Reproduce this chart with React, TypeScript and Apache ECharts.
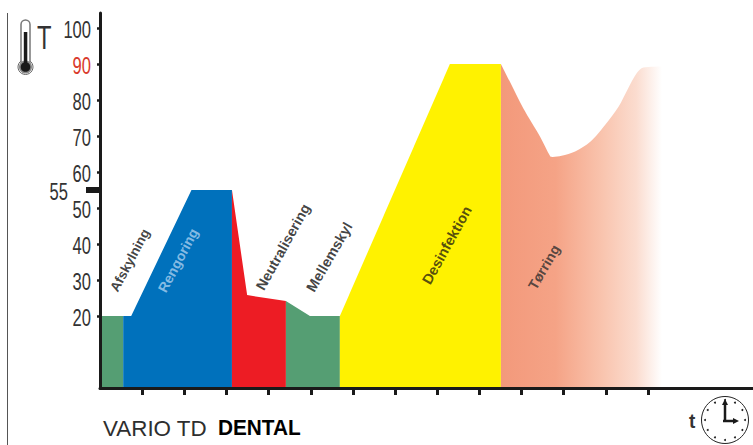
import React, { useEffect, useRef } from "react";
import * as echarts from "echarts";

const yTicks = [20, 30, 40, 50, 60, 70, 80, 90, 100];
const xTicks = [1, 2, 3, 4, 5, 6, 7, 8, 9, 10, 11, 12, 13];
const setpoint = [55];

const afskylning = [[0, 20], [0.55, 20]];
const rengoring = [[0.55, 20], [0.74, 20], [2.17, 55], [3.13, 55]];
const neutralisering = [[3.13, 55], [3.49, 25.8], [4.41, 24.2]];
const mellemskyl = [[4.41, 24.2], [4.98, 20], [5.69, 20]];
const desinfektion = [[5.69, 20], [8.3, 90], [9.51, 90]];
const torring = [
  [9.51, 90], [9.73, 84.9], [10.04, 77.7], [10.44, 69.8], [10.68, 64.4], [10.74, 64.2], [10.95, 64.5], [11.27, 65.7],
  [11.63, 68.4], [11.98, 73.05], [12.3, 78.1], [12.53, 83.25], [12.73, 87.4], [12.89, 89], [13.33, 89.3],
];

const phaseLabels = [
  { name: "Afskylning", x: 0.71, y: 35.5, rotate: 62, size: 13.5, color: "#111111" },
  { name: "Rengoring", x: 1.85, y: 35.5, rotate: 62, size: 14, color: "#a9cfee" },
  { name: "Neutralisering", x: 4.34, y: 39.2, rotate: 61, size: 14.3, color: "#111111" },
  { name: "Mellemskyl", x: 5.44, y: 36.4, rotate: 60, size: 14.5, color: "#111111" },
  { name: "Desinfektion", x: 8.23, y: 39.7, rotate: 61, size: 14.5, color: "#2b2510" },
  { name: "Tørring", x: 10.53, y: 33.6, rotate: 60, size: 14, color: "#2e2e2e" },
];

const areas = [
  { name: "Afskylning", data: afskylning, color: "#559e73" },
  { name: "Rengoring", data: rengoring, color: "#0071bc" },
  { name: "Neutralisering", data: neutralisering, color: "#ed1c24" },
  { name: "Mellemskyl", data: mellemskyl, color: "#559e73" },
  { name: "Desinfektion", data: desinfektion, color: "#fff200" },
];

const SANS = '"Liberation Sans", Arial, sans-serif';

const clockCx = 725;
const clockCy = 420;
const clockDots = Array.from({ length: 12 }, (_, i) => ({
  type: "circle",
  shape: {
    cx: clockCx + 20 * Math.cos((i * Math.PI) / 6),
    cy: clockCy + 20 * Math.sin((i * Math.PI) / 6),
    r: 1,
  },
  style: { fill: "#222" },
}));

// Narrow tick labels: no condensed face is installed, so the text is squeezed horizontally.
const yLabelSeries = (values: number[], gap: number) => ({
  type: "custom",
  silent: true,
  clip: false,
  z: 6,
  data: values.map((v) => [0, v]),
  renderItem: (_p: any, api: any) => {
    const v = api.value(1);
    const p = api.coord([0, v]);
    return {
      type: "text",
      x: p[0] - gap,
      y: p[1] + 1,
      scaleX: 0.69,
      style: {
        text: String(v),
        align: "right",
        verticalAlign: "middle",
        fontFamily: SANS,
        fontSize: 24,
        fill: v === 90 ? "#d9392b" : "#333333",
      },
    };
  },
});

export default function App() {
  const ref = useRef<HTMLDivElement>(null);
  useEffect(() => {
    const chart = echarts.init(ref.current!, undefined, { renderer: "svg" });
    const axisCommon = { min: 0, max: 104.17, type: "value", splitLine: { show: false } };
    chart.setOption({
      animation: false,
      backgroundColor: "#ffffff",
      grid: { left: 100, right: 0, top: 13, bottom: 57, containLabel: false },
      xAxis: {
        type: "value",
        min: 0,
        max: 15.49,
        z: 5,
        splitLine: { show: false },
        axisLine: { onZero: false, lineStyle: { color: "#1a1a1a", width: 3 } },
        axisTick: { show: true, customValues: xTicks, length: 7, lineStyle: { color: "#1a1a1a", width: 3 } },
        axisLabel: { show: false },
      },
      yAxis: [
        {
          ...axisCommon,
          z: 5,
          axisLine: { show: true, onZero: false, lineStyle: { color: "#1a1a1a", width: 3 } },
          axisTick: { show: true, customValues: yTicks, length: 3, lineStyle: { color: "#1a1a1a", width: 2.5 } },
          axisLabel: { show: false },
        },
        {
          ...axisCommon,
          position: "left",
          z: 5,
          axisLine: { show: false, onZero: false },
          axisTick: { show: true, customValues: setpoint, length: 14, lineStyle: { color: "#1a1a1a", width: 6 } },
          axisLabel: { show: false },
        },
      ],
      series: [
        ...areas.map((a) => ({
          type: "line",
          name: a.name,
          data: a.data,
          symbol: "none",
          silent: true,
          lineStyle: { width: 0 },
          areaStyle: { color: a.color, opacity: 1 },
        })),
        {
          type: "line",
          name: "Tørring",
          data: torring,
          symbol: "none",
          smooth: 0.3,
          silent: true,
          lineStyle: { width: 0 },
          areaStyle: {
            opacity: 1,
            color: {
              type: "linear",
              x: 0,
              y: 0,
              x2: 1,
              y2: 0,
              colorStops: [
                { offset: 0, color: "#f3997b" },
                { offset: 0.34, color: "#f5a386" },
                { offset: 0.63, color: "#f9c4ae" },
                { offset: 0.84, color: "#fbdccf" },
                { offset: 1, color: "#ffffff" },
              ],
            },
          },
        },
        yLabelSeries(yTicks, 9),
        yLabelSeries(setpoint, 32),
        ...phaseLabels.map((l) => ({
          type: "scatter",
          name: l.name + " label",
          symbolSize: 0,
          silent: true,
          z: 6,
          data: [[l.x, l.y]],
          label: {
            show: true,
            position: "inside",
            formatter: l.name,
            rotate: l.rotate,
            color: l.color,
            fontFamily: SANS,
            fontWeight: "bold",
            fontSize: l.size,
          },
        })),
      ],
      graphic: [
        {
          type: "line",
          shape: { x1: 7.5, y1: 13, x2: 7.5, y2: 445 },
          style: { stroke: "#555", lineWidth: 1 },
        },
        {
          type: "group",
          children: [
            { type: "circle", shape: { cx: 25.5, cy: 67, r: 7.5 }, style: { fill: "#fff", stroke: "#666", lineWidth: 1 } },
            { type: "rect", shape: { x: 21, y: 20, width: 9, height: 46, r: 4.5 }, style: { fill: "#fff", stroke: "#777", lineWidth: 1.5 } },
            { type: "circle", shape: { cx: 25.5, cy: 67, r: 6.5 }, style: { fill: "#888" } },
            { type: "rect", shape: { x: 23.8, y: 32, width: 3.5, height: 33 }, style: { fill: "#1a1a1a" } },
            { type: "circle", shape: { cx: 25.5, cy: 67, r: 4.8 }, style: { fill: "#1a1a1a" } },
          ],
        },
        {
          type: "text",
          x: 37,
          y: 21,
          scaleX: 0.72,
          style: { text: "T", fontFamily: SANS, fontSize: 33, fill: "#333" },
        },
        {
          type: "text",
          x: 103,
          y: 428,
          style: { text: "VARIO TD", verticalAlign: "middle", fontFamily: SANS, fontSize: 22.4, fill: "#2e2e2e" },
        },
        {
          type: "text",
          x: 218,
          y: 428,
          scaleX: 0.945,
          style: { text: "DENTAL", verticalAlign: "middle", fontFamily: SANS, fontSize: 22, fontWeight: "bold", fill: "#000" },
        },
        {
          type: "text",
          x: 689,
          y: 410,
          scaleX: 0.9,
          style: { text: "t", fontFamily: SANS, fontSize: 21, fontWeight: "bold", fill: "#333" },
        },
        {
          type: "group",
          children: [
            { type: "circle", shape: { cx: clockCx, cy: clockCy, r: 23.5 }, style: { fill: "#fff", stroke: "#222", lineWidth: 1 } },
            ...clockDots,
            { type: "line", shape: { x1: clockCx, y1: clockCy + 2, x2: clockCx, y2: 404 }, style: { stroke: "#1a1a1a", lineWidth: 2.5 } },
            { type: "line", shape: { x1: clockCx - 2, y1: clockCy + 1, x2: 734, y2: clockCy + 1 }, style: { stroke: "#1a1a1a", lineWidth: 2.5 } },
            { type: "polygon", shape: { points: [[clockCx, 399], [clockCx - 3, 405], [clockCx + 3, 405]] }, style: { fill: "#1a1a1a" } },
            { type: "polygon", shape: { points: [[739, clockCy + 1], [733, clockCy - 2], [733, clockCy + 4]] }, style: { fill: "#1a1a1a" } },
          ],
        },
      ],
    });
    return () => chart.dispose();
  }, []);
  return <div ref={ref} style={{ position: "absolute", left: 0, top: 0, width: 753, height: 445 }} />;
}
